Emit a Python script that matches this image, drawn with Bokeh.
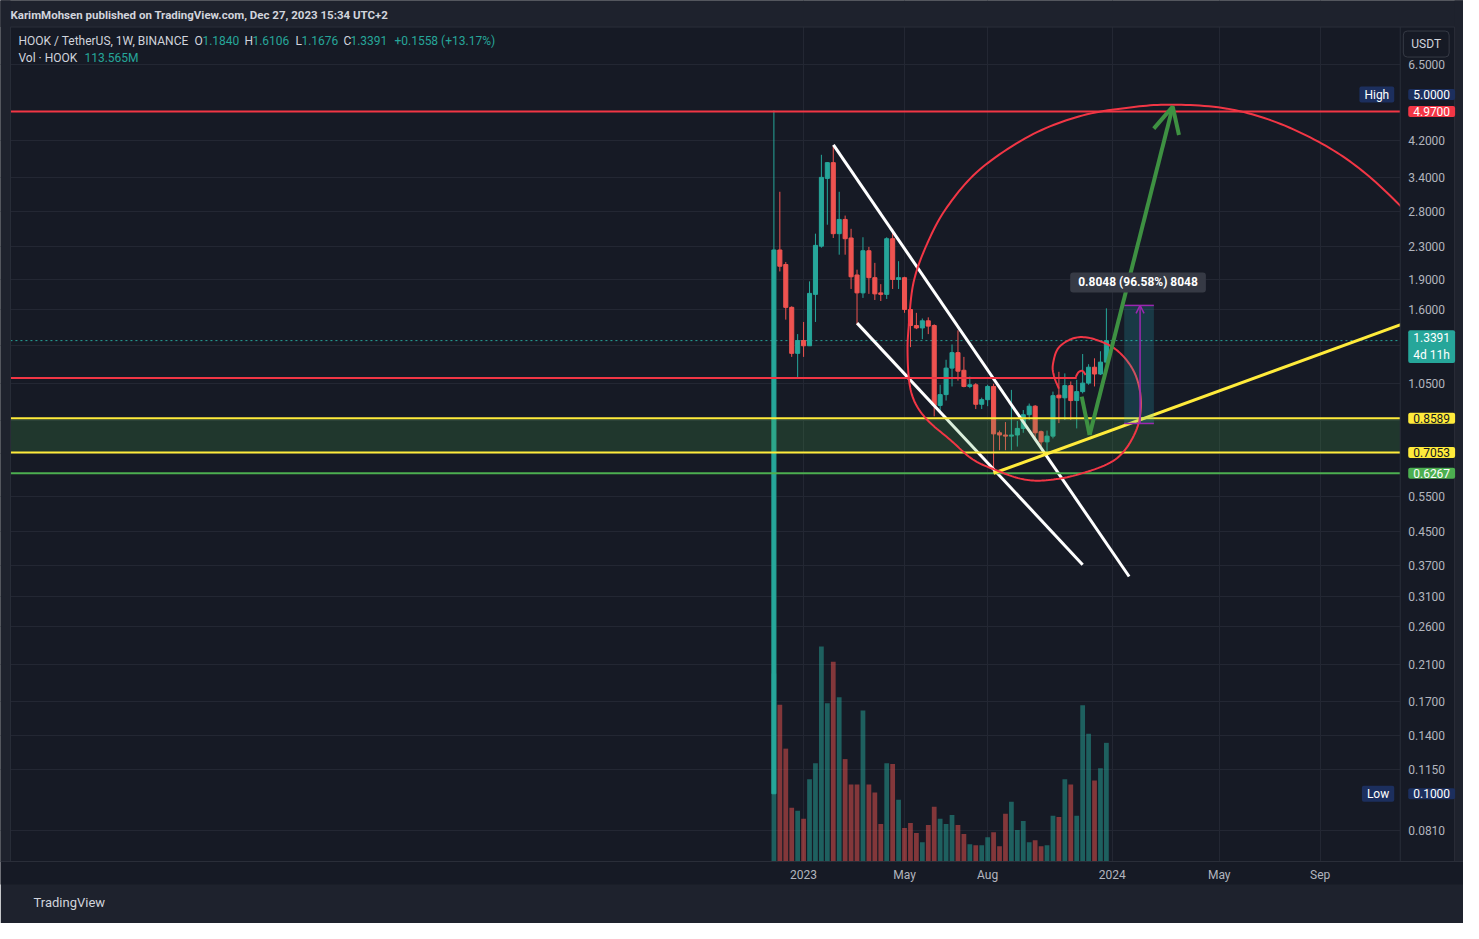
import numpy as np
import pandas as pd
from bokeh.plotting import figure
from bokeh.models import (ColumnDataSource, Range1d, LinearScale, FixedTicker,
                          Label, Arrow, OpenHead, Title)
from bokeh.embed import file_html
from bokeh.resources import INLINE

# ---------------- data (weekly candles HOOK/USDT) ----------------
first_week = "2022-11-28"
opens = [0.100, 2.250, 2.070, 1.620, 1.245, 1.340, 1.300, 1.745, 2.300, 3.390,
         3.710, 2.470, 2.680, 2.410, 1.950, 1.760, 2.240, 1.920, 1.760, 1.745,
         2.400, 1.900, 1.920, 1.600, 1.460, 1.440, 1.500, 1.460, 0.924, 0.983,
         1.144, 1.250, 1.130, 1.030, 1.040, 0.930, 0.955, 1.030, 0.790, 0.780,
         0.775, 0.780, 0.810, 0.876, 0.920, 0.795, 0.750, 0.775, 0.980, 0.965,
         1.035, 0.950, 1.000, 1.050, 1.150, 1.106, 1.184]
highs = [5.000, 3.140, 2.100, 1.630, 1.390, 1.490, 1.880, 2.470, 3.880, 3.720,
         4.100, 3.140, 2.740, 2.540, 2.010, 2.420, 2.290, 2.090, 1.850, 2.420,
         2.540, 2.110, 1.930, 1.620, 1.570, 1.520, 1.530, 1.470, 1.040, 1.200,
         1.310, 1.420, 1.220, 1.090, 1.050, 0.966, 1.040, 1.046, 0.800, 0.840,
         1.010, 0.845, 0.900, 0.934, 0.926, 0.800, 0.800, 1.000, 1.120, 1.110,
         1.060, 1.070, 1.240, 1.170, 1.210, 1.260, 1.6106]
lows = [0.100, 1.990, 1.510, 1.220, 1.080, 1.220, 1.300, 1.490, 2.280, 2.600,
        2.410, 2.190, 2.190, 1.800, 1.470, 1.710, 1.750, 1.690, 1.680, 1.700,
        1.800, 1.800, 1.570, 1.290, 1.430, 1.350, 1.390, 0.868, 0.883, 0.950,
        1.030, 1.065, 1.025, 1.020, 0.905, 0.905, 0.920, 0.6267, 0.715, 0.715,
        0.715, 0.730, 0.790, 0.850, 0.765, 0.730, 0.705, 0.765, 0.835, 0.850,
        0.850, 0.810, 0.990, 1.040, 1.030, 1.100, 1.1676]
closes = [2.250, 2.050, 1.620, 1.245, 1.340, 1.300, 1.755, 2.310, 3.410, 3.710,
          2.470, 2.680, 2.400, 1.930, 1.760, 2.240, 1.920, 1.750, 1.745, 2.400,
          1.900, 1.920, 1.600, 1.460, 1.440, 1.500, 1.455, 0.924, 0.983, 1.144,
          1.250, 1.124, 1.030, 1.040, 0.930, 0.955, 1.030, 0.785, 0.780, 0.775,
          0.780, 0.810, 0.876, 0.920, 0.790, 0.750, 0.775, 0.977, 0.965, 1.035,
          0.950, 1.000, 1.050, 1.150, 1.106, 1.184, 1.3391]
volumes_m = [180, 150, 108, 51.4, 48.5, 40.8, 78.6, 94.1, 205.8, 151.4,
             191.2, 157.2, 98, 73.8, 73.8, 144.6, 73.8, 66, 35.9, 94.1,
             93.2, 59.2, 32, 36.9, 27.2, 18.4, 34.9, 52.4, 40.8, 35.9,
             44.6, 34.9, 26.2, 16.5, 15.5, 15.5, 23.3, 28.1, 14.6, 45.6,
             57.3, 30.1, 38.8, 18.4, 20.4, 14.6, 15.5, 43.7, 42.7, 78.6,
             73.8, 43.7, 149.5, 122.3, 77.6, 89.3, 113.565]

price_axis_ticks = [6.5, 4.2, 3.4, 2.8, 2.3, 1.9, 1.6, 1.05, 0.55, 0.45, 0.37,
                    0.31, 0.26, 0.21, 0.17, 0.14, 0.115, 0.081]
price_grid_hidden = [1.3, 0.85, 0.70]
time_tick_dates = ["2023-01-02", "2023-05-01", "2023-08-07", "2024-01-01", "2024-05-06", "2024-09-02"]
time_tick_labels = ["2023", "May", "Aug", "2024", "May", "Sep"]

# horizontal levels
ath_line = 4.97
resistance = 1.0816
zone_top = 0.8589
zone_bottom = 0.7053
support_low = 0.6267
last_price = 1.3391
high_tag = 5.0
low_tag = 0.1

# drawings: (days after 2023-01-01, price)
resistance_end_day = 323.0
curl_days = [321.9, 325.4, 330.0, 333.5]
curl_prices = [1.088, 1.119, 1.125, 1.100]
wedge_upper_days = [36.2, 384.8]
wedge_upper_prices = [4.105, 0.347]
wedge_lower_days = [64.1, 330.0]
wedge_lower_prices = [1.48, 0.3713]
trend_days = [225.0, 760.0]
trend_prices = [0.6267, 1.618]
spiral_days = [302.0, 296.2, 295.0, 302.0, 321.9, 345.2, 372.0, 391.8, 398.8, 391.8,
               368.5, 325.4, 286.9, 258.9, 228.6, 200.6, 173.8, 148.1, 132.9, 125.9,
               123.6, 124.8, 130.6, 146.9, 170.3, 208.7, 267.1, 325.4, 383.7, 436.2,
               500.3, 558.6, 616.9, 663.6, 710.2, 740.0]
spiral_prices = [1.017, 1.094, 1.170, 1.288, 1.362, 1.347, 1.259, 1.106, 0.934, 0.789,
                 0.678, 0.623, 0.602, 0.606, 0.637, 0.678, 0.759, 0.845, 0.934, 1.046,
                 1.238, 1.441, 1.867, 2.338, 2.879, 3.566, 4.318, 4.832, 5.083, 5.170,
                 5.054, 4.672, 4.081, 3.486, 2.815, 2.35]
v_days = [328.9, 338.2]
v_prices = [0.9717, 0.780]
arrow_tip_day, arrow_tip_price = 436.2, 5.112
range_days = [379.0, 414.0]
range_mid_day = 397.7
range_prices = [0.8333, 1.6381]
range_text = "0.8048 (96.58%) 8048"

# ---------------- layout constants (days / prices of the chart frame edges) ----------------
VIEW_DAYS = (-945.8, 779.0)      # full canvas width
CHART_LEFT_DAY = -934.1
AXIS_COL_DAY = 704.4
RIGHT_STRIP_DAY = 768.5
VIEW_PRICES = (0.06786, 9.387)   # frame bottom / canvas top
HEADER_BOTTOM = 8.064
CHART_TOP = 8.018

BASE = pd.Timestamp("2023-01-01")
DAY = 86400000.0


def day_ms(d):
    return (BASE + pd.Timedelta(days=float(d))).value / 1e6


def ts_ms(s):
    return pd.Timestamp(s).value / 1e6


def smooth(xs, ys, n=12):
    pts = np.column_stack([xs, ys]).astype(float)
    pts = np.vstack([pts[0], pts, pts[-1]])
    out = []
    for i in range(1, len(pts) - 2):
        p0, p1, p2, p3 = pts[i - 1], pts[i], pts[i + 1], pts[i + 2]
        for t in np.linspace(0, 1, n, endpoint=False):
            t2, t3 = t * t, t * t * t
            out.append(0.5 * (2 * p1 + (-p0 + p2) * t + (2 * p0 - 5 * p1 + 4 * p2 - p3) * t2
                              + (-p0 + 3 * p1 - 3 * p2 + p3) * t3))
    out.append(pts[-2])
    return np.array(out)


dates = pd.date_range(first_week, periods=len(opens), freq="7D")
x_ms = np.array([t.value / 1e6 for t in dates])
o = np.array(opens); c = np.array(closes)
UP, DN = "#26a69a", "#ef5350"
colors = [UP if u else DN for u in (c >= o)]

BG = "#161a25"
PANEL = "#1e222d"
BORDER = "#2a2e39"
TXT = "#b2b5be"
LT = "#d1d4dc"
FONT = "Roboto"

xs0, xs1 = day_ms(VIEW_DAYS[0]), day_ms(VIEW_DAYS[1])
p = figure(width=1463, height=923, x_axis_type="datetime", y_axis_type="log",
           y_axis_location=None, x_range=Range1d(xs0, xs1),
           y_range=Range1d(*VIEW_PRICES),
           output_backend="svg", toolbar_location=None,
           min_border_left=0, min_border_right=0, min_border_top=0, min_border_bottom=62,
           background_fill_color=BG, border_fill_color=PANEL, outline_line_color=None)

p.extra_y_ranges = {"vol": Range1d(0, 824e6)}
p.extra_y_scales = {"vol": LinearScale()}

# time axis (real axis)
tick_ms = [int(ts_ms(d)) for d in time_tick_dates]
xa = p.xaxis[0]
xa.ticker = FixedTicker(ticks=tick_ms)
xa.major_label_overrides = {t: lab for t, lab in zip(tick_ms, time_tick_labels)}
xa.axis_line_color = BORDER
xa.major_tick_line_color = None
xa.minor_tick_line_color = None
xa.major_tick_out = 0
xa.major_tick_in = 0
xa.major_label_standoff = 6
xa.major_label_text_color = TXT
xa.major_label_text_font = FONT
xa.major_label_text_font_size = "12px"
if "background_fill_color" in xa.properties():
    xa.background_fill_color = BG

p.xgrid.ticker = FixedTicker(ticks=tick_ms)
p.ygrid.ticker = FixedTicker(ticks=price_axis_ticks + price_grid_hidden)
p.xgrid.grid_line_color = "#232733"
p.ygrid.grid_line_color = "#232733"

# footer
p.add_layout(Title(text="TradingView", align="left", offset=33, standoff=16,
                   text_font=FONT, text_font_size="13px", text_color=LT,
                   text_font_style="normal"), "below")

src = ColumnDataSource(dict(x=x_ms, o=o, h=highs, l=lows, c=c,
                            top=np.maximum(o, c), bottom=np.minimum(o, c),
                            color=colors, vol=np.array(volumes_m) * 1e6))

far_l, far_r = xs0 - 30 * DAY, xs1 + 30 * DAY
cl, cr = day_ms(CHART_LEFT_DAY), day_ms(AXIS_COL_DAY)

# header band
p.quad(left=[far_l], right=[far_r], bottom=[HEADER_BOTTOM], top=[50.0],
       fill_color=PANEL, line_color=None)

# volume
p.vbar(x="x", top="vol", bottom=0, width=5.6 * DAY, fill_color="color", fill_alpha=0.5,
       line_color=None, y_range_name="vol", source=src)

# last price dotted line
p.line([cl, cr], [last_price] * 2, line_color=UP, line_width=1, line_dash="2 3")

# candles
p.segment(x0="x", y0="l", x1="x", y1="h", line_color="color", line_width=1, source=src)
p.vbar(x="x", top="top", bottom="bottom", width=4.8 * DAY, fill_color="color",
       line_color="color", line_width=1, source=src)

# wedge lines
p.line([day_ms(d) for d in wedge_upper_days], wedge_upper_prices, line_color="#ffffff", line_width=3)
p.line([day_ms(d) for d in wedge_lower_days], wedge_lower_prices, line_color="#ffffff", line_width=3)

# zone
p.quad(left=[cl], right=[cr], bottom=[zone_bottom], top=[zone_top],
       fill_color="#4caf50", fill_alpha=0.2, line_color=None)

# horizontal lines
p.line([cl, cr], [ath_line] * 2, line_color="#f23645", line_width=2)
p.line([cl, cr], [zone_top] * 2, line_color="#ffeb3b", line_width=2)
p.line([cl, cr], [zone_bottom] * 2, line_color="#ffeb3b", line_width=2)
p.line([cl, cr], [support_low] * 2, line_color="#4caf50", line_width=2)
p.line([cl, day_ms(resistance_end_day)], [resistance] * 2, line_color="#f23645", line_width=2)
cs = smooth(curl_days, np.log(curl_prices), 6)
p.line([day_ms(d) for d in cs[:, 0]], np.exp(cs[:, 1]), line_color="#f23645", line_width=2)

# trend line
p.line([day_ms(d) for d in trend_days], trend_prices, line_color="#ffeb3b", line_width=3)

# spiral
sp = smooth(spiral_days, np.log(spiral_prices), 12)
p.line([day_ms(d) for d in sp[:, 0]], np.exp(sp[:, 1]), line_color="#f23645", line_width=2)

# green projection
GREEN = "#3e9142"
p.line([day_ms(d) for d in v_days], v_prices, line_color=GREEN, line_width=4)

# price range tool
PURP = "#9c27b0"
p.quad(left=[day_ms(range_days[0])], right=[day_ms(range_days[1])],
       bottom=[range_prices[0]], top=[range_prices[1]],
       fill_color="#26c6da", fill_alpha=0.18, line_color=None)
for pr in range_prices:
    p.line([day_ms(d) for d in range_days], [pr, pr], line_color=PURP, line_width=1.5)

# price-axis column, side strips and borders
p.quad(left=[cr], right=[day_ms(RIGHT_STRIP_DAY)], bottom=[VIEW_PRICES[0] * 0.5], top=[HEADER_BOTTOM],
       fill_color=BG, line_color=None)
p.quad(left=[day_ms(RIGHT_STRIP_DAY)], right=[far_r], bottom=[VIEW_PRICES[0] * 0.5], top=[50.0],
       fill_color=PANEL, line_color=None)
p.quad(left=[far_l], right=[cl], bottom=[VIEW_PRICES[0] * 0.5], top=[50.0],
       fill_color=PANEL, line_color=None)
p.line([cl, day_ms(RIGHT_STRIP_DAY)], [HEADER_BOTTOM] * 2, line_color=BORDER, line_width=1)
for xd in (cl, cr, day_ms(RIGHT_STRIP_DAY)):
    p.line([xd, xd], [VIEW_PRICES[0] * 0.5, HEADER_BOTTOM], line_color=BORDER, line_width=1)

# arrows (annotations)
p.add_layout(Arrow(x_start=day_ms(v_days[1]), y_start=v_prices[1],
                   x_end=day_ms(arrow_tip_day), y_end=arrow_tip_price,
                   line_color=GREEN, line_width=4, start=None,
                   end=OpenHead(size=26, line_color=GREEN, line_width=4)))
p.add_layout(Arrow(x_start=day_ms(range_mid_day), y_start=range_prices[0],
                   x_end=day_ms(range_mid_day), y_end=range_prices[1],
                   line_color=PURP, line_width=1.5, start=None,
                   end=OpenHead(size=8, line_color=PURP, line_width=1.5)))
p.add_layout(Label(x=day_ms(range_mid_day - 2.4), y=range_prices[1], y_offset=23, text=range_text,
                   text_align="center", text_baseline="middle", text_color="#ffffff",
                   text_font=FONT, text_font_size="12px", text_font_style="bold",
                   background_fill_color="#363a45",
                   padding=dict(left=8, right=8, top=3, bottom=3), border_radius=3))

# price axis labels
for v in price_axis_ticks:
    p.add_layout(Label(x=cr, y=v, x_offset=8, text=f"{v:.4f}", text_color=TXT,
                       text_font=FONT, text_font_size="12px", text_align="left",
                       text_baseline="middle"))


def text_at(text, dx, dy, color, size="12px", style="normal"):
    p.add_layout(Label(x=cl, y=VIEW_PRICES[1], x_offset=dx, y_offset=dy, text=text,
                       text_color=color, text_font=FONT, text_font_size=size,
                       text_font_style=style, text_align="left", text_baseline="middle"))


# header texts
text_at("KarimMohsen published on TradingView.com, Dec 27, 2023 15:34 UTC+2", 0, -14, LT, "11.5px", "bold")
text_at("HOOK / TetherUS, 1W, BINANCE", 8, -40, LT)
text_at("O", 184, -40, LT); text_at("1.1840", 192, -40, UP)
text_at("H", 234, -40, LT); text_at("1.6106", 242, -40, UP)
text_at("L", 285, -40, LT); text_at("1.1676", 291, -40, UP)
text_at("C", 333, -40, LT); text_at("1.3391", 340, -40, UP)
text_at("+0.1558 (+13.17%)", 384, -40, UP)
text_at("Vol · HOOK", 8, -57, LT)
text_at("113.565M", 74, -57, UP)


# price-axis tags
def tag(price, text, bg, fg, dy=0, dx=8, align="left"):
    p.add_layout(Label(x=cr, y=price, x_offset=dx, y_offset=dy, text=text,
                       text_color=fg, text_font=FONT, text_font_size="12px",
                       text_align=align, text_baseline="middle",
                       background_fill_color=bg,
                       padding=dict(left=5, right=5, top=1, bottom=1), border_radius=2))


NAVY = "#1c2f5e"
tag(high_tag, "5.0000", NAVY, "#ffffff", dy=16)
tag(high_tag, "High", NAVY, "#ffffff", dy=16, dx=-6, align="right")
tag(ath_line, "4.9700", "#f23645", "#ffffff")
tag(last_price, "1.3391\n4d 11h", UP, "#ffffff", dy=-6)
tag(zone_top, "0.8589", "#ffeb3b", "#131722")
tag(zone_bottom, "0.7053", "#ffeb3b", "#131722")
tag(support_low, "0.6267", "#4caf50", "#ffffff")
tag(low_tag, "0.1000", NAVY, "#ffffff")
tag(low_tag, "Low", NAVY, "#ffffff", dx=-6, align="right")

# currency button
p.add_layout(Label(x=cr, y=CHART_TOP, x_offset=26, y_offset=-16, text="USDT", text_color=LT,
                   text_font=FONT, text_font_size="12px", text_align="center", text_baseline="middle",
                   background_fill_color=BG, border_line_color="#363a45", border_line_width=1,
                   padding=dict(left=8, right=8, top=6, bottom=6), border_radius=4))

open("out.html", "w").write(file_html(p, INLINE))
